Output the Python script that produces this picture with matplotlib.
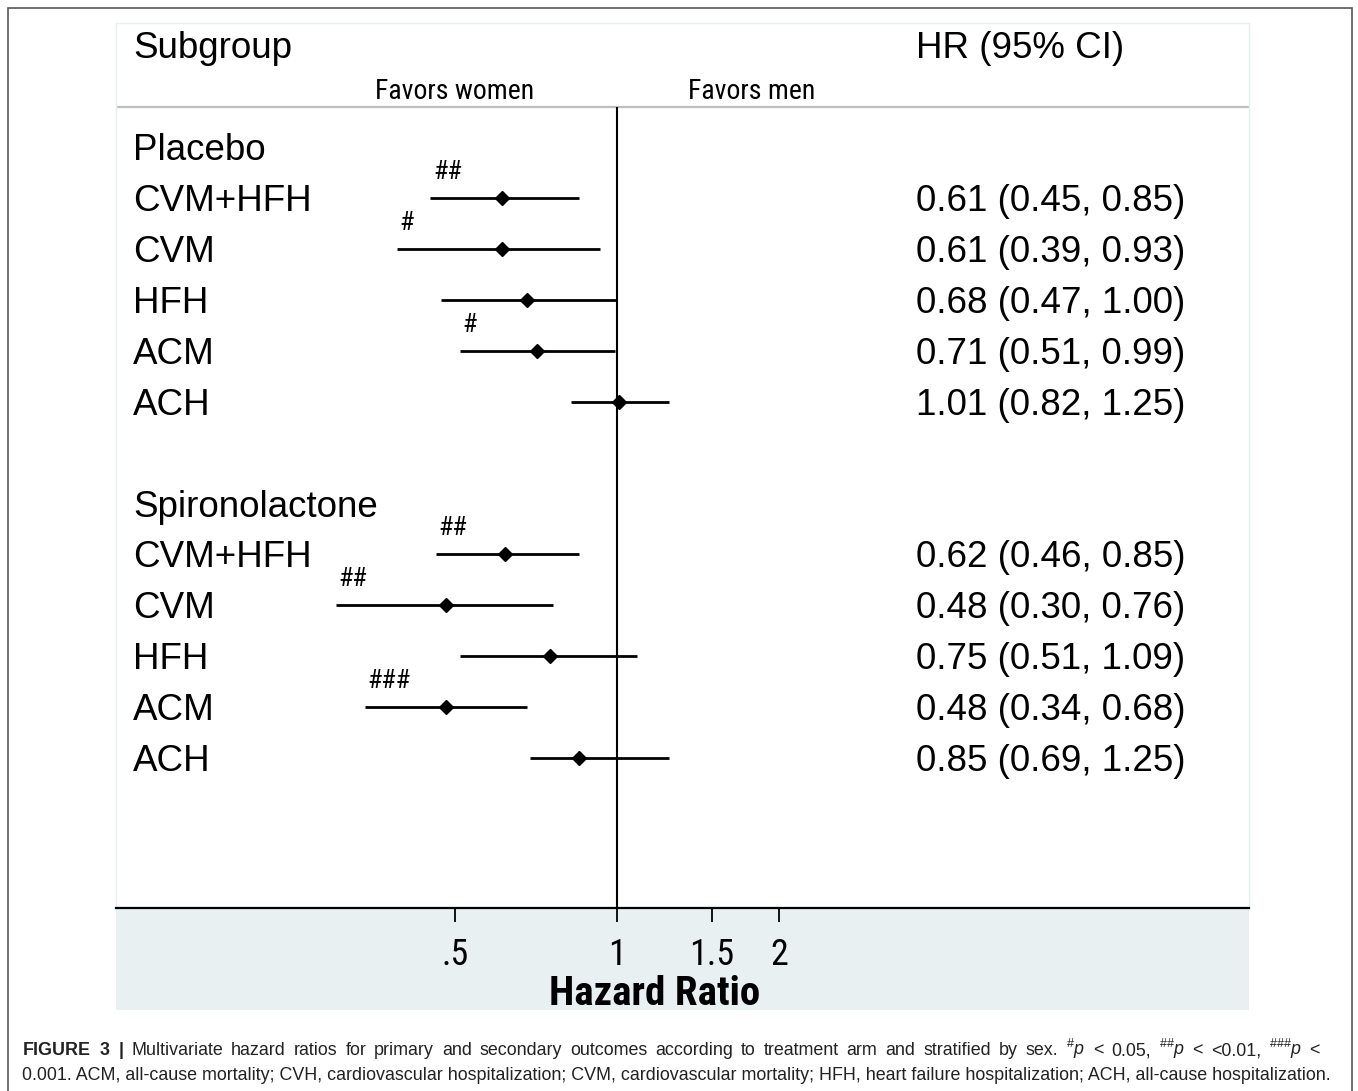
import matplotlib
matplotlib.use("Agg")
import matplotlib.pyplot as plt
from matplotlib import font_manager
from matplotlib.patches import Rectangle

# data
groups = ["Placebo", "Spironolactone"]
outcomes = ["CVM+HFH", "CVM", "HFH", "ACM", "ACH"]
placebo_hr = [0.61, 0.61, 0.68, 0.71, 1.01]
placebo_lo = [0.45, 0.39, 0.47, 0.51, 0.82]
placebo_hi = [0.85, 0.93, 1.00, 0.99, 1.25]
placebo_sig = ["##", "#", "", "#", ""]
spiro_hr = [0.62, 0.48, 0.75, 0.48, 0.85]
spiro_lo = [0.46, 0.30, 0.51, 0.34, 0.69]
spiro_hi = [0.85, 0.76, 1.09, 0.68, 1.25]
spiro_sig = ["##", "##", "", "###", ""]
xticks = [0.5, 1, 1.5, 2]
xticklabels = [".5", "1", "1.5", "2"]

available = {f.name for f in font_manager.fontManager.ttflist}
def pick(*names):
    for n in names:
        if n in available:
            return n
    return "DejaVu Sans"

SANS = pick("Liberation Sans", "Arial", "DejaVu Sans")
NARROW = pick("Liberation Sans Narrow", "Roboto Condensed", "Open Sans Condensed", SANS)
plt.rcParams["font.family"] = SANS
plt.rcParams["mathtext.fontset"] = "custom"
plt.rcParams["mathtext.rm"] = SANS
plt.rcParams["mathtext.it"] = SANS + ":italic"
plt.rcParams["mathtext.bf"] = SANS + ":bold"

W, H = 1358, 1091
fig = plt.figure(figsize=(W / 100, H / 100), dpi=100)

def fx(px):
    return px / W
def fy(py):
    return 1 - py / H

# outer frame of the figure panel
fig.add_artist(Rectangle((fx(8), fy(1100)), fx(1352) - fx(8), fy(8) - fy(1100),
                         transform=fig.transFigure, fill=False, ec="#555555", lw=1.2))
# shaded band under the axis
fig.add_artist(Rectangle((fx(116), fy(1010)), fx(1249) - fx(116), fy(908) - fy(1010),
                         transform=fig.transFigure, fc="#e8f0f2", ec="none", zorder=0))

ax = fig.add_axes([fx(116), fy(908), fx(1249) - fx(116), fy(23) - fy(908)])
ax.set_xscale("log")
ax.set_xlim(0.1172, 14.94)
ax.set_ylim(14.95, -2.436)

fs = 26.5
base = 0.26  # baseline offset so that capitals are centred on the row
tr = ax.get_yaxis_transform()
y = 0
for g, hr, lo, hi, sig in [(groups[0], placebo_hr, placebo_lo, placebo_hi, placebo_sig),
                           (groups[1], spiro_hr, spiro_lo, spiro_hi, spiro_sig)]:
    ax.text(0.015, y + base, g, transform=tr, fontsize=fs, va="baseline")
    for i, name in enumerate(outcomes):
        yy = y + 1 + i
        ax.text(0.015, yy + base, name, transform=tr, fontsize=fs, va="baseline")
        ax.text(0.706, yy + base, f"{hr[i]:.2f} ({lo[i]:.2f}, {hi[i]:.2f})",
                transform=tr, fontsize=fs, va="baseline")
        ax.plot([lo[i], hi[i]], [yy, yy], color="black", lw=2.0, solid_capstyle="butt", zorder=3)
        ax.plot(hr[i], yy, marker="D", color="black", ms=7.5, zorder=4)
        if sig[i]:
            ax.annotate(sig[i], (lo[i], yy), xytext=(2, 10), textcoords="offset points",
                        fontsize=19, family=NARROW, ha="left", va="bottom")
    y += 7

# header
ax.text(0.015, -2.0 + base, "Subgroup", transform=tr, fontsize=fs, va="baseline")
ax.text(0.706, -2.0 + base, "HR (95% CI)", transform=tr, fontsize=fs, va="baseline")
ax.text(0.299, -1.10, "Favors women", transform=tr, fontsize=20,
        family=NARROW, ha="center", va="center")
ax.text(0.561, -1.10, "Favors men", transform=tr, fontsize=20,
        family=NARROW, ha="center", va="center")
ax.axhline(-0.786, color="#bdbdbd", lw=1.6)
ax.vlines(1, -0.786, 14.95, color="black", lw=1.5, zorder=2)

# axes styling
for s in ["left", "right", "top"]:
    ax.spines[s].set_color("#e6eef0")
    ax.spines[s].set_linewidth(1.0)
ax.spines["bottom"].set_linewidth(1.6)
ax.set_yticks([])
ax.xaxis.set_minor_locator(matplotlib.ticker.NullLocator())
ax.set_xticks(xticks)
ax.set_xticklabels(xticklabels, family=NARROW, fontsize=26)
ax.tick_params(axis="x", length=10, width=1.3, pad=11)
fig.text(fx(655), fy(994), "Hazard Ratio", family=NARROW, fontsize=29.5, fontweight="bold",
         ha="center", va="center")

# caption, first line justified between x=22 and x=1320
cs = 12.9
words1 = ([r"$\bf{FIGURE}$", r"$\bf{3}$", r"$\bf{|}$"]
          + "Multivariate hazard ratios for primary and secondary outcomes according to treatment arm "
            "and stratified by sex.".split()
          + [r"$^{\#}\it{p}$", "<", "0.05,", r"$^{\#\#}\it{p}$", "<", "<0.01,", r"$^{\#\#\#}\it{p}$", "<"])
renderer = fig.canvas.get_renderer()
texts = []
for w in words1:
    t = fig.text(0, fy(1050), w, fontsize=cs, color="#222222", va="baseline")
    texts.append(t)
widths = [t.get_window_extent(renderer).width for t in texts]
gap = (1320 - 22 - sum(widths)) / (len(words1) - 1)
xpos = 22
for t, wd in zip(texts, widths):
    t.set_x(fx(xpos))
    t.set_y(fy(1055))
    xpos += wd + gap
fig.text(fx(22), fy(1075), "0.001. ACM, all-cause mortality; CVH, cardiovascular hospitalization; "
         "CVM, cardiovascular mortality; HFH, heart failure hospitalization; ACH, all-cause hospitalization.",
         fontsize=cs, color="#222222", va="center")

fig.savefig("out.png", dpi=100)
